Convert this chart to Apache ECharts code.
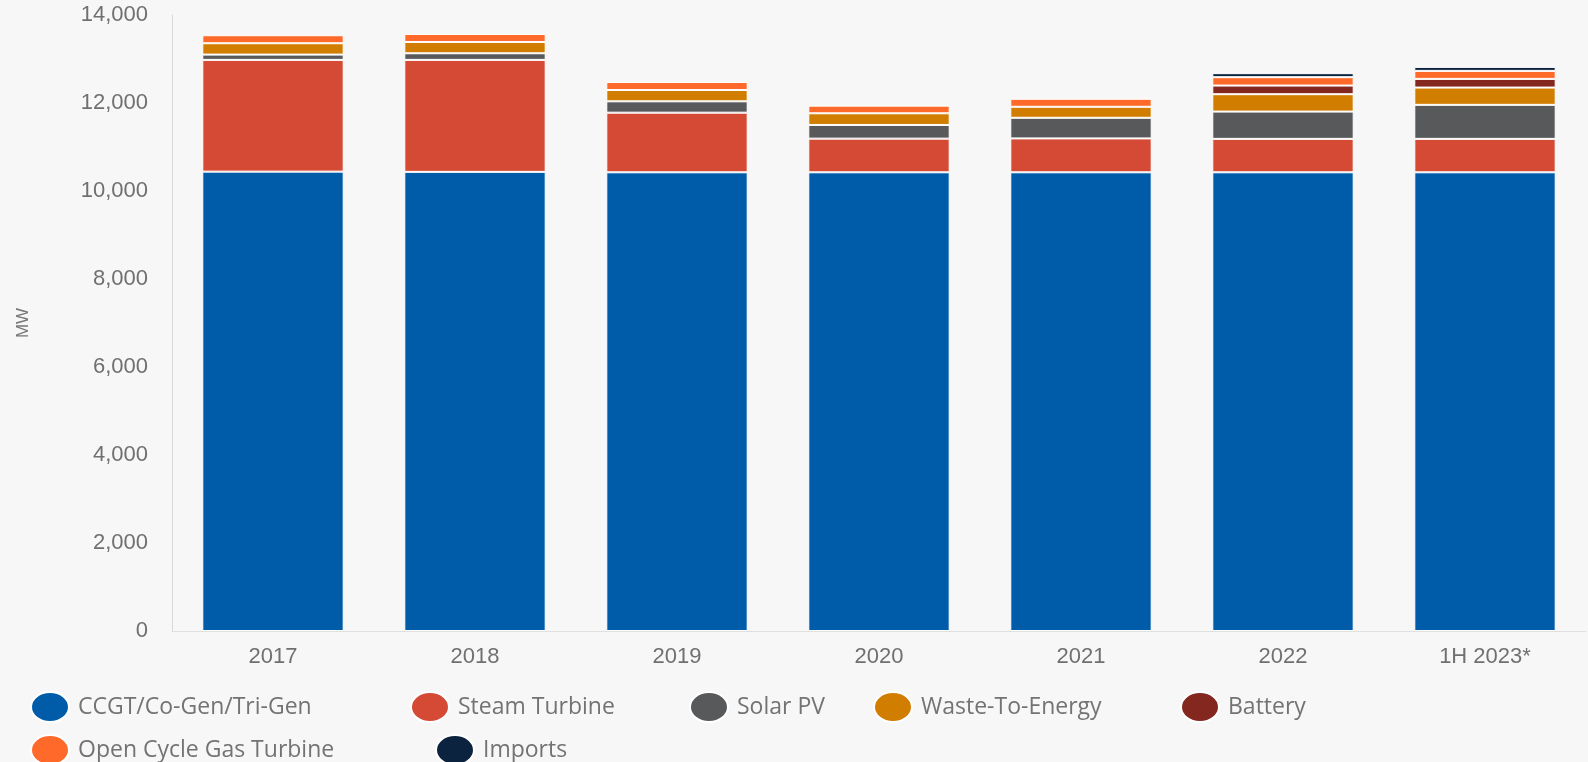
<!DOCTYPE html>
<html>
<head>
<meta charset="utf-8">
<script src="https://cdn.jsdelivr.net/npm/echarts@6/dist/echarts.min.js"></script>
<style>
html,body{margin:0;padding:0;background:#f7f7f7;}
#chart{width:1588px;height:762px;}
</style>
</head>
<body>
<div id="chart"></div>
<script>
const categories = ['2017', '2018', '2019', '2020', '2021', '2022', '1H 2023*'];
const yTicks = [0, 2000, 4000, 6000, 8000, 10000, 12000, 14000];

const ccgt      = [10440, 10435, 10425, 10425, 10425, 10425, 10425];
const steam     = [2540, 2545, 1355, 765, 770, 760, 760];
const solarPV   = [120, 150, 258, 311, 469, 620, 773];
const wasteToEn = [258, 257, 257, 265, 250, 395, 393];
const battery   = [null, null, null, null, null, 196, 197];
const ocgt      = [182, 182, 182, 174, 182, 191, 182];
const imports   = [null, null, null, null, null, 91, 91];

const seriesNames = ['CCGT/Co-Gen/Tri-Gen', 'Steam Turbine', 'Solar PV', 'Waste-To-Energy', 'Battery', 'Open Cycle Gas Turbine', 'Imports'];
const seriesData = [ccgt, steam, solarPV, wasteToEn, battery, ocgt, imports];
const colors = ['#005CA9', '#D54A35', '#58595B', '#D17D00', '#83271F', '#FF6A2B', '#0C2340'];

// legend layout (left, top) per item
const legendPos = [[30, 691], [410, 691], [689, 691], [873, 691], [1180, 691], [30, 734], [435, 734]];

const ellipse = 'path://M0,50A50,50,0,1,1,100,50A50,50,0,1,1,0,50Z';

const chart = echarts.init(document.getElementById('chart'));
chart.setOption({
  backgroundColor: '#f7f7f7',
  animation: false,
  color: colors,
  grid: {left: 172, right: 2, top: 15, bottom: 131, containLabel: false},
  legend: seriesNames.map((n, i) => ({
    data: [n],
    left: legendPos[i][0],
    top: legendPos[i][1],
    icon: ellipse,
    symbolKeepAspect: false,
    itemWidth: 38,
    itemHeight: 30,
    itemGap: 0,
    padding: 0,
    selectedMode: false,
    textStyle: {fontFamily: 'Open Sans', fontSize: 23, color: '#737373', padding: [0, 0, 0, 4]}
  })),
  xAxis: {
    type: 'category',
    data: categories,
    axisLine: {show: true, lineStyle: {color: '#e0e0e0', width: 1}},
    axisTick: {show: false},
    axisLabel: {fontFamily: 'Liberation Sans', fontSize: 22, color: '#707070', margin: 15}
  },
  yAxis: {
    type: 'value',
    min: yTicks[0],
    max: yTicks[yTicks.length - 1],
    interval: yTicks[1] - yTicks[0],
    name: 'MW',
    nameLocation: 'middle',
    nameGap: 140,
    nameRotate: 90,
    nameTextStyle: {fontFamily: 'Liberation Sans', fontSize: 17, color: '#777'},
    axisLine: {show: true, lineStyle: {color: '#d9d9d9', width: 1}},
    axisTick: {show: false},
    splitLine: {show: false},
    axisLabel: {
      fontFamily: 'Liberation Sans', fontSize: 22, color: '#707070', margin: 24,
      formatter: v => v.toLocaleString('en-US')
    }
  },
  series: seriesNames.map((n, i) => ({
    name: n,
    type: 'bar',
    stack: 'total',
    barWidth: '70%',
    data: seriesData[i],
    itemStyle: {color: colors[i], borderColor: '#ffffff', borderWidth: 1},
    emphasis: {disabled: true}
  }))
});
</script>
</body>
</html>
